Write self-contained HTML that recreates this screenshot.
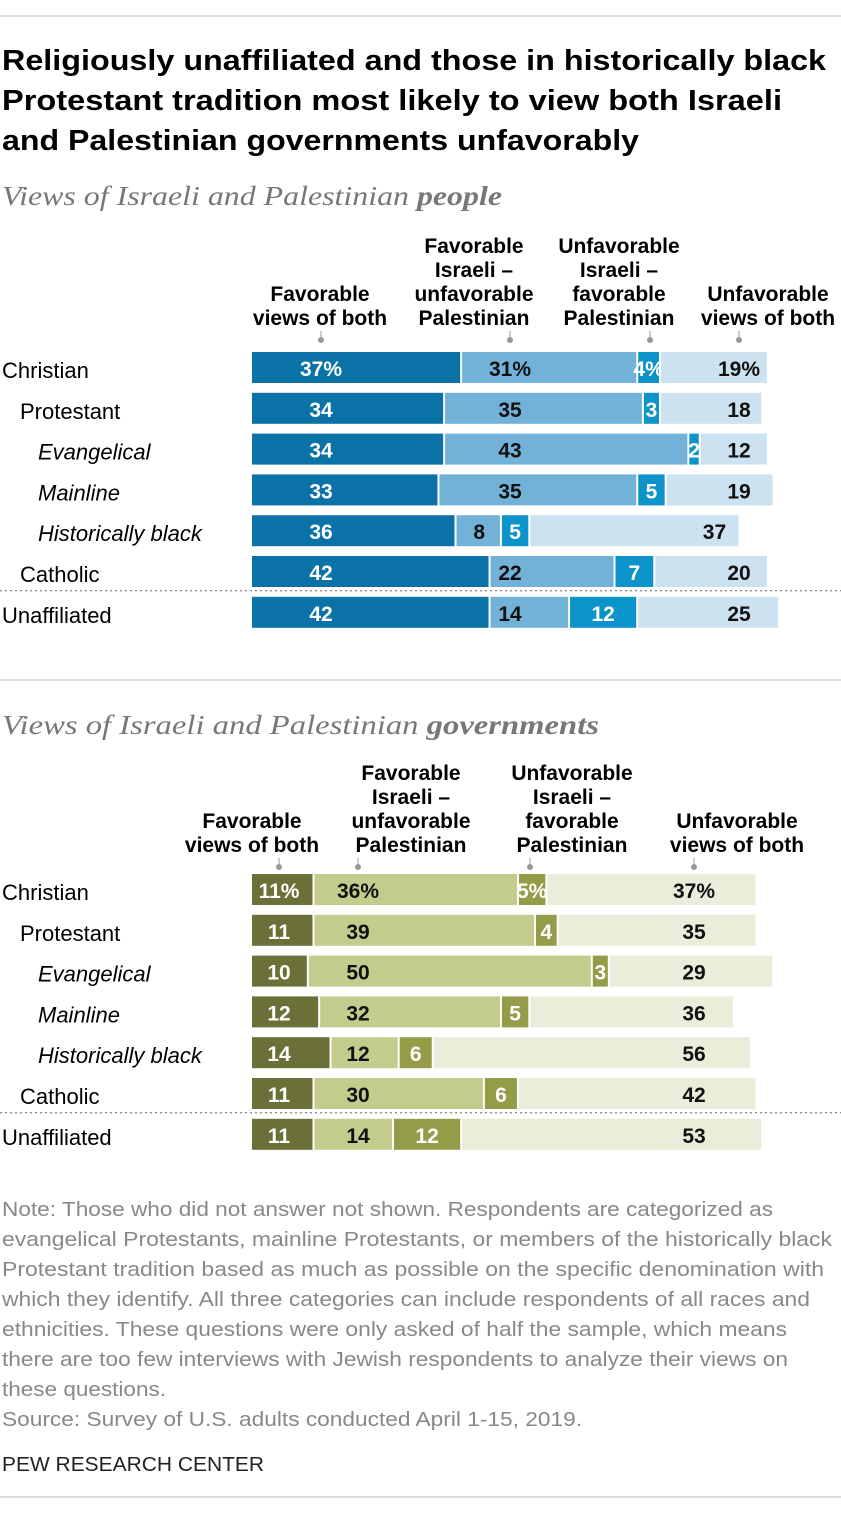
<!DOCTYPE html>
<html><head><meta charset="utf-8"><style>
body{margin:0;background:#fff;font-family:"Liberation Sans",sans-serif;}
svg text{font-family:"Liberation Sans",sans-serif;}
</style></head><body>
<svg id="c" width="841" height="1512" xmlns="http://www.w3.org/2000/svg">
<line x1="0" y1="16" x2="841" y2="16" stroke="#bbb"/>
<text font-size="29" font-weight="bold" fill="#000">
<tspan x="2" y="70" textLength="824" lengthAdjust="spacingAndGlyphs">Religiously unaffiliated and those in historically black</tspan>
<tspan x="2" y="110" textLength="780" lengthAdjust="spacingAndGlyphs">Protestant tradition most likely to view both Israeli</tspan>
<tspan x="2" y="150" textLength="637" lengthAdjust="spacingAndGlyphs">and Palestinian governments unfavorably</tspan></text>
<text x="2" y="205" font-size="27" font-style="italic" fill="#777" style="font-family:'Liberation Serif',serif" textLength="500" lengthAdjust="spacingAndGlyphs">Views of Israeli and Palestinian <tspan font-weight="bold">people</tspan></text>
<line x1="0" y1="680" x2="841" y2="680" stroke="#bbb"/>
<text x="2" y="734" font-size="27" font-style="italic" fill="#777" style="font-family:'Liberation Serif',serif" textLength="597" lengthAdjust="spacingAndGlyphs">Views of Israeli and Palestinian <tspan font-weight="bold">governments</tspan></text>
<g id="people"></g><g id="gov"></g>
<text font-size="20" fill="#888" lengthAdjust="spacingAndGlyphs">
<tspan x="2" y="1216" textLength="771" lengthAdjust="spacingAndGlyphs">Note: Those who did not answer not shown. Respondents are categorized as</tspan>
<tspan x="2" y="1246" textLength="830" lengthAdjust="spacingAndGlyphs">evangelical Protestants, mainline Protestants, or members of the historically black</tspan>
<tspan x="2" y="1276" textLength="822" lengthAdjust="spacingAndGlyphs">Protestant tradition based as much as possible on the specific denomination with</tspan>
<tspan x="2" y="1306" textLength="808" lengthAdjust="spacingAndGlyphs">which they identify. All three categories can include respondents of all races and</tspan>
<tspan x="2" y="1336" textLength="785" lengthAdjust="spacingAndGlyphs">ethnicities. These questions were only asked of half the sample, which means</tspan>
<tspan x="2" y="1366" textLength="786" lengthAdjust="spacingAndGlyphs">there are too few interviews with Jewish respondents to analyze their views on</tspan>
<tspan x="2" y="1396" textLength="164" lengthAdjust="spacingAndGlyphs">these questions.</tspan>
<tspan x="2" y="1426" textLength="580" lengthAdjust="spacingAndGlyphs">Source: Survey of U.S. adults conducted April 1-15, 2019.</tspan></text>
<text x="2" y="1471" font-size="20" fill="#222" textLength="262" lengthAdjust="spacingAndGlyphs">PEW RESEARCH CENTER</text>
<line x1="0" y1="1497" x2="841" y2="1497" stroke="#bbb"/>
</svg>
<script>
const categories=["Christian","Protestant","Evangelical","Mainline","Historically black","Catholic","Unaffiliated"];
const peopleFavBoth=[37,34,34,33,36,42,42];
const peopleFavIsr=[31,35,43,35,8,22,14];
const peopleFavPal=[4,3,2,5,5,7,12];
const peopleUnfBoth=[19,18,12,19,37,20,25];
const govFavBoth=[11,11,10,12,14,11,11];
const govFavIsr=[36,39,50,32,12,30,14];
const govFavPal=[5,4,3,5,6,6,12];
const govUnfBoth=[37,35,29,36,56,42,53];
const colHeaders=[["Favorable","views of both"],["Favorable","Israeli –","unfavorable","Palestinian"],["Unfavorable","Israeli –","favorable","Palestinian"],["Unfavorable","views of both"]];
const NS="http://www.w3.org/2000/svg";
const X0=252,K=5.68;
const xs=v=>v*K;
function mk(p,t,a){const e=document.createElementNS(NS,t);for(const k in a)e.setAttribute(k,a[k]);p.appendChild(e);return e;}
function draw(gid,series,colors,txtCol,labelX,hdrX,hdrBottom,rowY0,name){
  const g=document.getElementById(gid);
  colHeaders.forEach((h,i)=>{
    const t=mk(g,'text',{'font-size':'21','font-weight':'bold','text-anchor':'middle'});
    
    
    h.forEach((l,j)=>{const s=mk(t,'tspan',{x:hdrX[i],y:hdrBottom-(h.length-1-j)*24});s.textContent=l;});
    mk(g,'line',{x1:labelX[i],x2:labelX[i],y1:hdrBottom+6,y2:hdrBottom+14,stroke:'#999'});
    mk(g,'circle',{cx:labelX[i],cy:hdrBottom+15,r:3,fill:'#999'});
  });
  categories.forEach((c,r)=>{
    const y=rowY0+r*40.8;
    const indent=(r===0||r===6)?2:(r===1||r===5)?20:38;
    const lt=mk(g,'text',{x:indent,y:y+10,'font-size':'22','font-style':(r>=2&&r<=4)?'italic':'normal',fill:'#000'});
    lt.textContent=c;
    
    
    if(r===6){mk(g,'line',{x1:0,x2:841,y1:y-22,y2:y-22,stroke:'#666','stroke-dasharray':'2,3'});}
    let x=X0;
    series.forEach((s,i)=>{
      const w=xs(s[r]);
      const rc=mk(g,'rect',{x:x,y:y-16,width:Math.max(w-2,1),height:31,fill:colors[i]});
      
      
      let tx=(i===2)?x+w/2-1:labelX[i];
      if(i!==2 && i!==3 && tx>x+w) tx=x+w/2;
      if(i===3 && tx+14>x+w-4) tx=x+w-26;
      const t=mk(g,'text',{x:tx,y:y+8,'font-size':'21','font-weight':'bold','text-anchor':'middle',fill:txtCol[i]});
      t.textContent=s[r]+(r===0?'%':'');
      
      
      x+=w;
    });
  });
}
draw('people',[peopleFavBoth,peopleFavIsr,peopleFavPal,peopleUnfBoth],['#0a72a6','#73b2d8','#0c93c9','#cde2f0'],['#fff','#111','#fff','#111'],[321,510,650,739],[320,474,619,768],325,368,'people');
draw('gov',[govFavBoth,govFavIsr,govFavPal,govUnfBoth],['#6b7038','#c3cc8d','#949c48','#eaedd9'],['#fff','#111','#fff','#111'],[279,358,530,694],[252,411,572,737],852,890,'gov');
</script>
</body></html>
